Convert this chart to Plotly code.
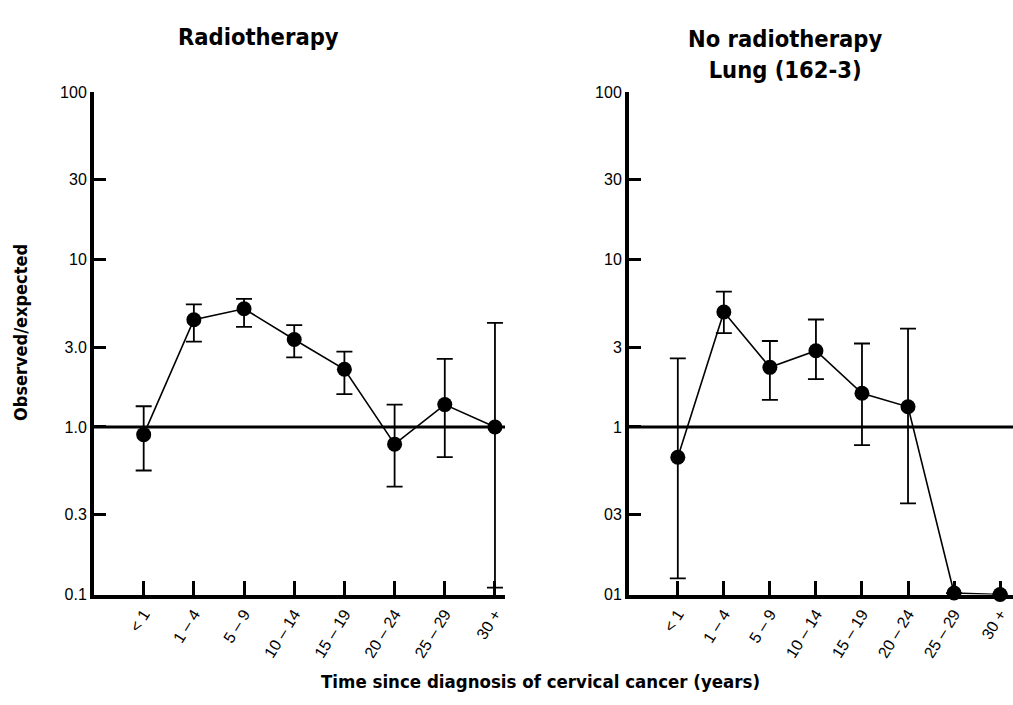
import plotly.graph_objects as go

categories = ["< 1", "1 – 4", "5 – 9", "10 – 14", "15 – 19", "20 – 24", "25 – 29", "30 +"]

# Radiotherapy panel
radio_value = [0.90, 4.37, 5.08, 3.33, 2.21, 0.79, 1.36, 1.00]
radio_upper = [1.33, 5.40, 5.82, 4.05, 2.82, 1.36, 2.55, 4.18]
radio_lower = [0.55, 3.23, 3.96, 2.60, 1.57, 0.44, 0.66, 0.11]

# No radiotherapy panel (Lung 162-3)
norad_value = [0.66, 4.86, 2.27, 2.85, 1.59, 1.32, 0.102, 0.10]
norad_upper = [2.57, 6.42, 3.26, 4.38, 3.15, 3.87, None, None]
norad_lower = [0.125, 3.63, 1.45, 1.93, 0.78, 0.35, None, None]

left_ticktext = ["0.1", "0.3", "1.0", "3.0", "10", "30", "100"]
right_ticktext = ["01", "03", "1", "3", "10", "30", "100"]
tickvals = [0.1, 0.3, 1, 3, 10, 30, 100]

W, H = 1013, 705
BOLD_FONT = "DejaVu Sans Condensed, Liberation Sans Narrow, Arial Narrow, sans-serif"
TICK_FONT = "Liberation Sans, Arial, Helvetica, sans-serif"


def err(vals, up, lo):
    plus = [(u - v) if u is not None else 0 for v, u in zip(vals, up)]
    minus = [(v - l) if l is not None else 0 for v, l in zip(vals, lo)]
    return plus, minus


fig = go.Figure()

for vals, up, lo, xa, ya in [
    (radio_value, radio_upper, radio_lower, "x", "y"),
    (norad_value, norad_upper, norad_lower, "x2", "y2"),
]:
    plus, minus = err(vals, up, lo)
    fig.add_trace(go.Scatter(
        x=categories, y=vals, xaxis=xa, yaxis=ya,
        mode="lines+markers",
        line=dict(color="black", width=1.6),
        marker=dict(color="black", size=15, symbol="circle"),
        error_y=dict(type="data", symmetric=False, array=plus, arrayminus=minus,
                     color="black", thickness=1.8, width=8),
        cliponaxis=False,
        showlegend=False,
    ))

axis_common = dict(
    showline=True, linecolor="black", linewidth=4, mirror=False,
    showgrid=False, zeroline=False,
    ticks="inside", tickcolor="black", tickwidth=3,
)
xtickfont = dict(family=TICK_FONT, size=16, color="black")
ytickfont = dict(family=TICK_FONT, size=16, color="black")

fig.update_layout(
    width=W, height=H,
    margin=dict(l=0, r=0, t=0, b=0),
    paper_bgcolor="white", plot_bgcolor="white",
    xaxis=dict(domain=[94 / W, 505 / W], type="category", range=[-0.99, 7.2],
               ticklen=14, tickangle=-58, anchor="y", tickfont=xtickfont,
               **axis_common),
    yaxis=dict(domain=[(H - 601) / H, (H - 86) / H], type="log", range=[-1, 2],
               tickvals=tickvals, ticktext=left_ticktext, ticklen=12, anchor="x",
               tickfont=ytickfont, **axis_common),
    xaxis2=dict(domain=[629 / W, 1.0], type="category", range=[-1.06, 7.28],
                ticklen=14, tickangle=-58, anchor="y2", tickfont=xtickfont,
                **axis_common),
    yaxis2=dict(domain=[(H - 601) / H, (H - 86) / H], type="log", range=[-1, 2],
                tickvals=tickvals, ticktext=right_ticktext, ticklen=12, anchor="x2",
                tickfont=ytickfont, **axis_common),
)

# Reference lines at observed/expected = 1
for xr, yr in [("x domain", "y"), ("x2 domain", "y2")]:
    fig.add_shape(type="line", xref=xr, yref=yr, x0=0, x1=1, y0=1, y1=1,
                  line=dict(color="black", width=3))

title_font = dict(family=BOLD_FONT, size=23.5, color="black")
fig.add_annotation(text="<b>Radiotherapy</b>", x=258 / W, y=(H - 30) / H,
                   xref="paper", yref="paper", showarrow=False, font=title_font,
                   xanchor="center", yanchor="middle")
fig.add_annotation(text="<b>No radiotherapy<br>Lung (162-3)</b>", x=785 / W, y=(H - 48) / H,
                   xref="paper", yref="paper", showarrow=False, font=title_font,
                   xanchor="center", yanchor="middle")
fig.add_annotation(text="<b>Observed/expected</b>", x=21 / W, y=(H - 333) / H,
                   xref="paper", yref="paper", showarrow=False, textangle=-90,
                   font=dict(family=BOLD_FONT, size=18, color="black"),
                   xanchor="center", yanchor="middle")
fig.add_annotation(text="<b>Time since diagnosis of cervical cancer (years)</b>",
                   x=540 / W, y=(H - 690) / H,
                   xref="paper", yref="paper", showarrow=False,
                   font=dict(family=BOLD_FONT, size=18.5, color="black"),
                   xanchor="center", yanchor="middle")

fig.write_html("out.html", post_script="document.body.style.margin='0';",
               config={"displayModeBar": False})
